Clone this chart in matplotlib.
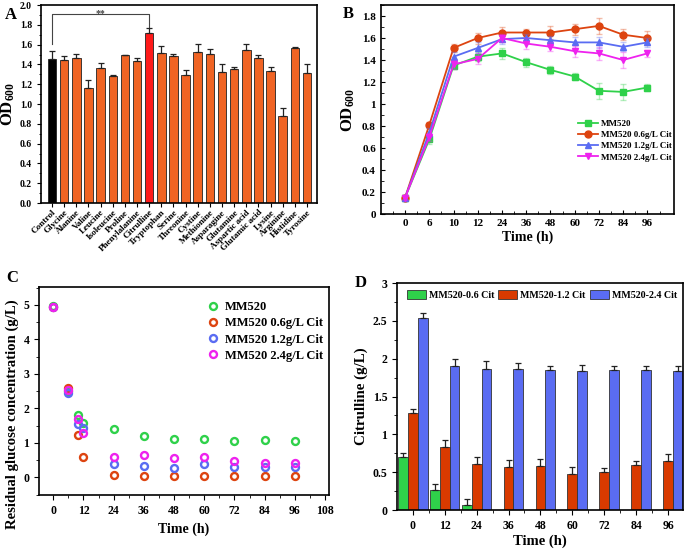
import numpy as np
import matplotlib
matplotlib.use("Agg")
import matplotlib.pyplot as plt
from matplotlib.ticker import MultipleLocator, FuncFormatter, FixedLocator

plt.rcParams["font.family"] = ["Liberation Serif", "DejaVu Serif"]
plt.rcParams["font.weight"] = "bold"
plt.rcParams["axes.labelweight"] = "bold"
plt.rcParams["mathtext.fontset"] = "custom"
plt.rcParams["mathtext.rm"] = "Liberation Serif:bold"
plt.rcParams["mathtext.bf"] = "Liberation Serif:bold"
plt.rcParams["mathtext.it"] = "Liberation Serif:bold"
plt.rcParams["axes.linewidth"] = 1.2

# ---- panel A: OD600 with different amino acids ----
AMINO = ["Control", "Glycine", "Alanine", "Valine", "Leucine", "Isoleucine", "Proline",
         "Phenylalanine", "Citrulline", "Tryptophan", "Serine", "Threonine", "Cystine",
         "Methionine", "Asparagine", "Glutamine", "Aspartic acid", "Glutamic acid",
         "Lysine", "Arginine", "Histidine", "Tyrosine"]
OD_A = [1.45, 1.44, 1.46, 1.16, 1.36, 1.28, 1.49, 1.43, 1.72, 1.52, 1.48, 1.29, 1.53,
        1.51, 1.32, 1.35, 1.55, 1.46, 1.33, 0.88, 1.57, 1.31]
ERR_A = [0.09, 0.04, 0.05, 0.08, 0.05, 0.01, 0.01, 0.03, 0.05, 0.07, 0.03, 0.05, 0.08,
         0.05, 0.08, 0.02, 0.06, 0.04, 0.04, 0.08, 0.01, 0.09]

# ---- panel B: growth curves ----
TIME_B = ["0", "6", "10", "12", "24", "36", "48", "60", "72", "84", "96"]
SERIES = ["MM520", "MM520 0.6g/L Cit", "MM520 1.2g/L Cit", "MM520 2.4g/L Cit"]
OD_B_0 = [0.15, 0.68, 1.35, 1.43, 1.46, 1.38, 1.31, 1.25, 1.12, 1.11, 1.15]
OD_B_06 = [0.15, 0.81, 1.51, 1.60, 1.65, 1.65, 1.65, 1.68, 1.71, 1.63, 1.60]
OD_B_12 = [0.15, 0.74, 1.43, 1.51, 1.59, 1.60, 1.58, 1.56, 1.56, 1.52, 1.56]
OD_B_24 = [0.15, 0.70, 1.36, 1.41, 1.60, 1.55, 1.52, 1.48, 1.46, 1.40, 1.46]
ERR_B_0 = [0.02, 0.04, 0.03, 0.04, 0.05, 0.04, 0.04, 0.03, 0.07, 0.07, 0.03]
ERR_B_06 = [0.02, 0.03, 0.04, 0.05, 0.05, 0.03, 0.06, 0.05, 0.07, 0.05, 0.06]
ERR_B_12 = [0.02, 0.04, 0.04, 0.05, 0.04, 0.04, 0.04, 0.05, 0.05, 0.04, 0.04]
ERR_B_24 = [0.02, 0.04, 0.04, 0.05, 0.04, 0.05, 0.04, 0.05, 0.06, 0.07, 0.03]

# ---- panel C: residual glucose ----
TIME_C = [0, 6, 10, 12, 24, 36, 48, 60, 72, 84, 96]
GLU_0 = [4.98, 2.50, 1.80, 1.58, 1.40, 1.20, 1.10, 1.10, 1.06, 1.07, 1.06]
GLU_06 = [4.95, 2.58, 1.22, 0.60, 0.06, 0.04, 0.03, 0.04, 0.05, 0.03, 0.03]
GLU_12 = [4.95, 2.46, 1.55, 1.42, 0.40, 0.32, 0.26, 0.40, 0.31, 0.31, 0.30]
GLU_24 = [4.93, 2.53, 1.69, 1.30, 0.59, 0.65, 0.55, 0.58, 0.47, 0.43, 0.42]

# ---- panel D: citrulline ----
TIME_D = ["0", "12", "24", "36", "48", "60", "72", "84", "96"]
CIT_LABELS = ["MM520-0.6 Cit", "MM520-1.2 Cit", "MM520-2.4 Cit"]
CIT_06 = [0.70, 0.26, 0.06, 0, 0, 0, 0, 0, 0]
CIT_12 = [1.28, 0.83, 0.61, 0.57, 0.58, 0.48, 0.50, 0.59, 0.65]
CIT_24 = [2.54, 1.91, 1.87, 1.86, 1.85, 1.84, 1.85, 1.85, 1.84]
ERR_D_06 = [0.06, 0.09, 0.09, 0, 0, 0, 0, 0, 0]
ERR_D_12 = [0.06, 0.09, 0.09, 0.09, 0.09, 0.09, 0.05, 0.06, 0.09]
ERR_D_24 = [0.07, 0.09, 0.10, 0.08, 0.06, 0.08, 0.06, 0.05, 0.07]

G_COL, O_COL, B_COL, M_COL = "#2fd14a", "#dd4410", "#5a6cf2", "#ee22ee"

fig = plt.figure(figsize=(6.85, 5.5), dpi=100)
axA = fig.add_axes([0.0599, 0.6309, 0.4029, 0.36])
axB = fig.add_axes([0.556, 0.6109, 0.428, 0.38])
axC = fig.add_axes([0.0569, 0.10, 0.4234, 0.3782])
axD = fig.add_axes([0.5796, 0.0727, 0.4174, 0.4127])

fmt = FuncFormatter(lambda v, p: f"{v:g}")

# ---------------- A ----------------
xa = np.arange(len(AMINO))
colsA = ["#f06424"] * len(AMINO)
colsA[0] = "#000000"
colsA[AMINO.index("Citrulline")] = "#ff1a1a"
axA.bar(xa, OD_A, width=0.7, color=colsA, edgecolor="#222222", linewidth=0.6, zorder=2)
axA.errorbar(xa, OD_A, yerr=[np.zeros(len(ERR_A)), ERR_A], fmt="none", ecolor="#222222",
             elinewidth=0.9, capsize=2, capthick=0.9, zorder=3)
axA.set_xlim(-0.91, 21.83)
axA.set_ylim(0, 2.0)
axA.yaxis.set_major_locator(MultipleLocator(0.2))
axA.yaxis.set_minor_locator(MultipleLocator(0.1))
axA.yaxis.set_major_formatter(FuncFormatter(lambda v, p: f"{v:.1f}"))
axA.set_xticks(xa)
axA.set_xticklabels(AMINO, rotation=45, ha="right", rotation_mode="anchor", fontsize=6.6)
axA.tick_params(axis="y", labelsize=7, direction="out", length=3)
axA.tick_params(axis="y", which="minor", direction="out", length=1.8)
axA.tick_params(axis="x", direction="out", length=3, pad=1)
axA.set_ylabel("OD$_{600}$", fontsize=12, labelpad=2)
ci = AMINO.index("Citrulline")
axA.plot([0, 0, ci, ci], [1.61, 1.91, 1.91, 1.78], color="#444444", lw=0.8)
axA.text(ci / 2, 1.885, "**", ha="center", va="baseline", fontsize=7, color="#444444")

# ---------------- B ----------------
xb = np.arange(len(TIME_B))
for vals, errs, col, mk, lab in [(OD_B_0, ERR_B_0, G_COL, "s", SERIES[0]),
                                  (OD_B_06, ERR_B_06, O_COL, "o", SERIES[1]),
                                  (OD_B_12, ERR_B_12, B_COL, "^", SERIES[2]),
                                  (OD_B_24, ERR_B_24, M_COL, "v", SERIES[3])]:
    axB.errorbar(xb, vals, yerr=errs, fmt="none", ecolor=col, alpha=0.35,
                 elinewidth=1, capsize=2.5)
    axB.plot(xb, vals, color=col, marker=mk, markersize=5, lw=1.3, label=lab)
axB.set_xlim(-1, 11.1)
axB.set_ylim(0, 1.9)
axB.set_xticks(xb)
axB.set_xticklabels(TIME_B)
axB.xaxis.set_minor_locator(FixedLocator(np.arange(-0.5, 11, 1)))
axB.yaxis.set_major_locator(MultipleLocator(0.2))
axB.yaxis.set_minor_locator(MultipleLocator(0.1))
axB.yaxis.set_major_formatter(fmt)
axB.tick_params(axis="both", which="both", direction="in", labelsize=8)
axB.tick_params(axis="both", which="major", length=3)
axB.tick_params(axis="both", which="minor", length=2)
axB.set_xlabel("Time (h)", fontsize=10, labelpad=2)
axB.set_ylabel("OD$_{600}$", fontsize=12, labelpad=4)
axB.legend(loc="upper left", bbox_to_anchor=(0.66, 0.47), frameon=False, fontsize=6.5,
           handlelength=2.2, handletextpad=0.3, labelspacing=0.33, borderaxespad=0)

# ---------------- C ----------------
for vals, col, lab in [(GLU_0, G_COL, SERIES[0]), (GLU_06, O_COL, SERIES[1]),
                       (GLU_12, B_COL, SERIES[2]), (GLU_24, M_COL, SERIES[3])]:
    axC.plot(TIME_C, vals, linestyle="none", marker="o", markersize=5,
             markerfacecolor="none", markeredgecolor=col, markeredgewidth=1.7, label=lab)
axC.set_xlim(-5.7, 109.6)
axC.set_ylim(-0.51, 5.52)
axC.xaxis.set_major_locator(MultipleLocator(12))
axC.xaxis.set_minor_locator(MultipleLocator(6))
axC.yaxis.set_major_locator(MultipleLocator(1))
axC.yaxis.set_minor_locator(MultipleLocator(0.5))
axC.tick_params(axis="both", which="both", direction="out", labelsize=8.5)
axC.tick_params(axis="both", which="major", length=3.5)
axC.tick_params(axis="both", which="minor", length=2)
axC.set_xlabel("Time (h)", fontsize=10, labelpad=4)
axC.set_ylabel("Residual glucose concentration (g/L)", fontsize=10.6)
axC.yaxis.set_label_coords(-0.068, 0.39)
axC.legend(loc="upper left", bbox_to_anchor=(0.56, 0.955), frameon=False, fontsize=9,
           handlelength=1.0, handletextpad=0.5, labelspacing=0.33, borderaxespad=0)

# ---------------- D ----------------
xd = np.arange(len(TIME_D))
w = 0.31
for off, vals, errs, col, lab in [(-w, CIT_06, ERR_D_06, G_COL, CIT_LABELS[0]),
                                   (0, CIT_12, ERR_D_12, "#d93a00", CIT_LABELS[1]),
                                   (w, CIT_24, ERR_D_24, B_COL, CIT_LABELS[2])]:
    axD.bar(xd + off, vals, width=w, color=col, edgecolor="#333333", linewidth=0.6,
            label=lab, zorder=2)
    e = np.array(errs)
    m = e > 0
    axD.errorbar((xd + off)[m], np.array(vals)[m], yerr=[np.zeros(m.sum()), e[m]],
                 fmt="none", ecolor="#222222", elinewidth=0.9, capsize=2, capthick=0.9,
                 zorder=3)
axD.set_xlim(-0.49, 8.46)
axD.set_ylim(0, 3)
axD.set_xticks(xd)
axD.set_xticklabels(TIME_D)
axD.xaxis.set_minor_locator(FixedLocator(np.arange(0.5, 8.5, 1)))
axD.yaxis.set_major_locator(MultipleLocator(0.5))
axD.yaxis.set_minor_locator(MultipleLocator(0.25))
axD.yaxis.set_major_formatter(fmt)
axD.tick_params(axis="both", which="both", direction="out", labelsize=8.5)
axD.tick_params(axis="both", which="major", length=3.5)
axD.tick_params(axis="both", which="minor", length=2)
axD.set_xlabel("Time (h)", fontsize=10.5, labelpad=2)
axD.set_ylabel("Citrulline (g/L)", fontsize=10.8, labelpad=3)
axD.legend(loc="upper left", bbox_to_anchor=(0.02, 0.985), ncol=3, frameon=False,
           fontsize=7.2, handlelength=1.9, handleheight=0.9, handletextpad=0.3,
           columnspacing=0.4, borderaxespad=0)

# panel letters
for txt, x, y in [("A", 0.016, 0.973), ("B", 0.509, 0.975), ("C", 0.018, 0.495),
                  ("D", 0.527, 0.485)]:
    fig.text(x, y, txt, fontsize=12, fontweight="bold", ha="center", va="center")

fig.savefig("out.png", dpi=100)
